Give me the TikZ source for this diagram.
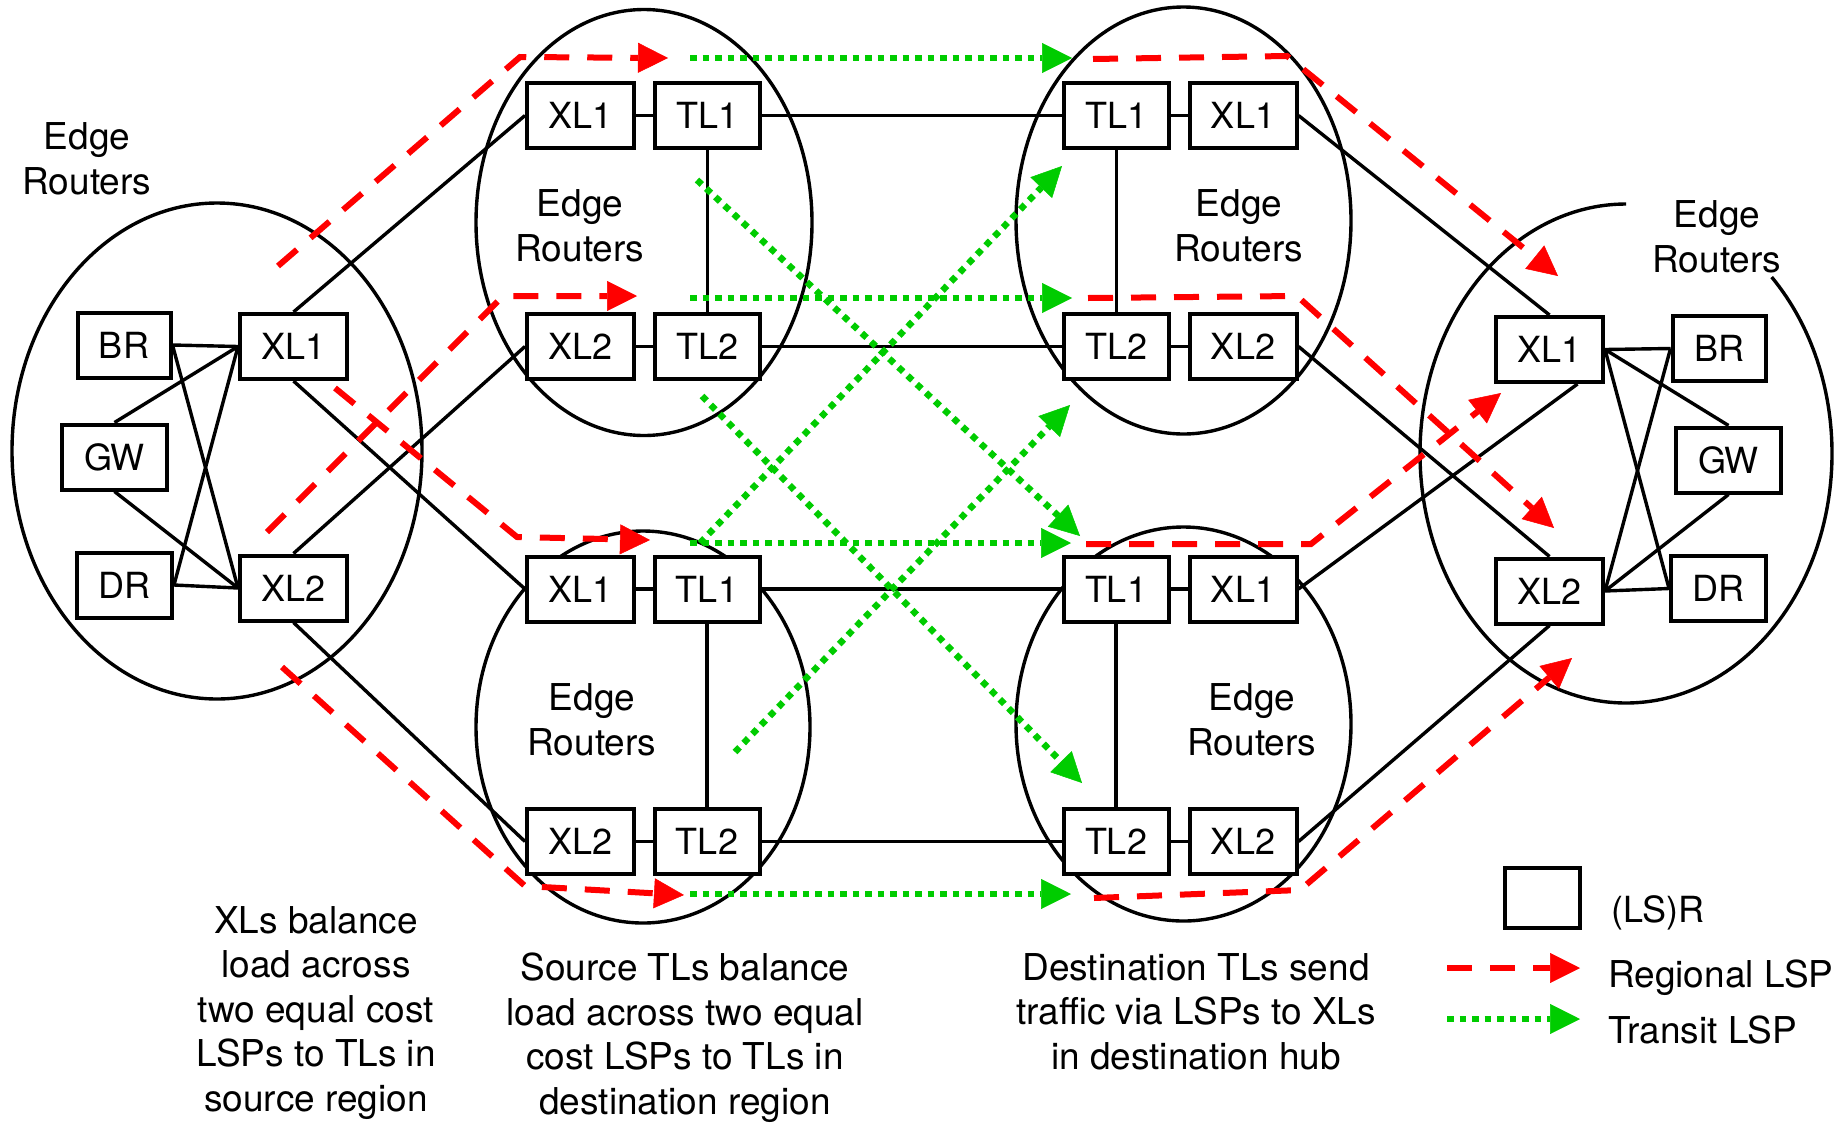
\documentclass[tikz,border=0pt]{standalone}
\usepackage{fontspec}
\setmainfont{TeX Gyre Heros}
\usetikzlibrary{arrows.meta,calc}
\definecolor{lspred}{RGB}{255,0,0}
\definecolor{lspgreen}{RGB}{0,204,0}
\begin{document}
\begin{tikzpicture}[x=1pt,y=-1pt,
  box/.style={draw,line width=4pt,minimum width=107pt,minimum height=65pt,inner sep=0pt,fill=white,font=\fontsize{36}{43}\selectfont},
  sbox/.style={box,minimum width=93pt},
  mbox/.style={box,minimum width=105pt},
  lbl/.style={align=center,inner sep=0pt,font=\fontsize{37}{44.5}\selectfont},
  link/.style={line width=3.4pt},
  reg/.style={draw=lspred,line width=6pt,dash pattern=on 25pt off 18pt,-{Triangle[length=30pt,width=30pt,line width=0.5pt]},lspred},
  tra/.style={draw=lspgreen,line width=6.5pt,dash pattern=on 6.5pt off 6pt,-{Triangle[length=30pt,width=30pt,line width=0.5pt]},lspgreen}]
\useasboundingbox (0,0) rectangle (1843,1122);

% ellipses
\draw[link] (217,451) ellipse [x radius=205, y radius=248];
\draw[link] (644,222.5) ellipse [x radius=168, y radius=213];
\draw[link] (643,727) ellipse [x radius=167, y radius=196];
\draw[link] (1183.5,220.5) ellipse [x radius=167.5, y radius=213.5];
\draw[link] (1183.5,724) ellipse [x radius=167.5, y radius=197];
\draw[link] (1626,453.5) ++(-45:206 and 249.5) arc[start angle=-45, end angle=270, x radius=206, y radius=249.5];

% left region
\node[sbox] (lBR) at (124,345) {BR};
\node[mbox] (lGW) at (114.5,457) {GW};
\node[sbox,minimum width=95pt] (lDR) at (124.5,585) {DR};
\node[box] (lXL1) at (293.5,346.5) {XL1};
\node[box] (lXL2) at (293.5,588) {XL2};
\node[lbl] (lLab) at (87,159) {Edge\\Routers};

% top-left hub
\node[box] (aXL1) at (580.5,115.5) {XL1};
\node[mbox] (aTL1) at (707.5,115.5) {TL1};
\node[box] (aXL2) at (580.5,346.5) {XL2};
\node[mbox] (aTL2) at (707.5,346.5) {TL2};
\node[lbl] (aLab) at (580,226) {Edge\\Routers};

% bottom-left hub
\node[box] (cXL1) at (580.5,589) {XL1};
\node[mbox] (cTL1) at (707,589) {TL1};
\node[box] (cXL2) at (580.5,841.5) {XL2};
\node[mbox] (cTL2) at (707,841.5) {TL2};
\node[lbl] (cLab) at (592,720) {Edge\\Routers};

% top-right hub
\node[mbox] (bTL1) at (1116.5,115.5) {TL1};
\node[box] (bXL1) at (1243,115.5) {XL1};
\node[mbox] (bTL2) at (1116.5,346.5) {TL2};
\node[box] (bXL2) at (1243,346.5) {XL2};
\node[lbl] (bLab) at (1239,226) {Edge\\Routers};

% bottom-right hub
\node[mbox] (dTL1) at (1116,589) {TL1};
\node[box] (dXL1) at (1243,589) {XL1};
\node[mbox] (dTL2) at (1116,841.5) {TL2};
\node[box] (dXL2) at (1243,841.5) {XL2};
\node[lbl] (dLab) at (1252,720) {Edge\\Routers};

% right region
\node[box] (rXL1) at (1549.5,349.5) {XL1};
\node[sbox] (rBR) at (1719,348.5) {BR};
\node[mbox] (rGW) at (1728.5,460) {GW};
\node[sbox,minimum width=95pt] (rDR) at (1718.5,588.5) {DR};
\node[box] (rXL2) at (1549.5,591) {XL2};
\node[lbl] (rLab) at (1717,237) {Edge\\Routers};

% black links
\draw[link] (lBR.east) -- (lXL1.west);
\draw[link] (lBR.east) -- (lXL2.west);
\draw[link] (lGW.north) -- (lXL1.west);
\draw[link] (lGW.south) -- (lXL2.west);
\draw[link] (lDR.east) -- (lXL1.west);
\draw[link] (lDR.east) -- (lXL2.west);
\draw[link] (rXL1.east) -- (rBR.west);
\draw[link] (rXL1.east) -- (rGW.north);
\draw[link] (rXL1.east) -- (rDR.west);
\draw[link] (rXL2.east) -- (rBR.west);
\draw[link] (rXL2.east) -- (rGW.south);
\draw[link] (rXL2.east) -- (rDR.west);
\draw[link] (lXL1.north) -- (aXL1.west);
\draw[link] (lXL1.south) -- (cXL1.west);
\draw[link] (lXL2.north) -- (aXL2.west);
\draw[link] (lXL2.south) -- (cXL2.west);
\draw[link] (aXL1.east) -- (aTL1.west);
\draw[link] (aXL2.east) -- (aTL2.west);
\draw[link] (aTL1.south) -- (aTL2.north);
\draw[link] (cXL1.east) -- (cTL1.west);
\draw[link] (cXL2.east) -- (cTL2.west);
\draw[link] (cTL1.south) -- (cTL2.north);
\draw[link] (aTL1.east) -- (bTL1.west);
\draw[link] (aTL2.east) -- (bTL2.west);
\draw[link] (cTL1.east) -- (dTL1.west);
\draw[link] (cTL2.east) -- (dTL2.west);
\draw[link] (bTL1.east) -- (bXL1.west);
\draw[link] (bTL2.east) -- (bXL2.west);
\draw[link] (bTL1.south) -- (bTL2.north);
\draw[link] (dTL1.east) -- (dXL1.west);
\draw[link] (dTL2.east) -- (dXL2.west);
\draw[link] (dTL1.south) -- (dTL2.north);
\draw[link] (bXL1.east) -- (rXL1.north);
\draw[link] (bXL2.east) -- (rXL2.north);
\draw[link] (dXL1.east) -- ([xshift=28pt]rXL1.south);
\draw[link] (dXL2.east) -- (rXL2.south);

% LSP coordinates
\coordinate (r1a) at (278,266); \coordinate (r1b) at (520,57);  \coordinate (r1c) at (668,58);
\coordinate (r2a) at (335,388); \coordinate (r2b) at (517,537); \coordinate (r2c) at (650,540);
\coordinate (r3a) at (267,532); \coordinate (r3b) at (503,296); \coordinate (r3c) at (637,296);
\coordinate (r4a) at (282,667); \coordinate (r4b) at (525,886); \coordinate (r4c) at (684,895);
\coordinate (r5a) at (1093,59); \coordinate (r5b) at (1287,56); \coordinate (r5c) at (1558,276);
\coordinate (r6a) at (1088,298); \coordinate (r6b) at (1297,296); \coordinate (r6c) at (1554,528);
\coordinate (r7a) at (1086,544); \coordinate (r7b) at (1311,544); \coordinate (r7c) at (1501,393);
\coordinate (r8a) at (1094,898); \coordinate (r8b) at (1300,890); \coordinate (r8c) at (1572,658);
\coordinate (g1a) at (690,58);  \coordinate (g1b) at (1072,58);
\coordinate (g2a) at (690,298); \coordinate (g2b) at (1072,298);
\coordinate (g3a) at (690,543); \coordinate (g3b) at (1071,543);
\coordinate (g4a) at (690,894); \coordinate (g4b) at (1071,894);
\coordinate (g5a) at (697,180); \coordinate (g5b) at (1080,536);
\coordinate (g6a) at (702,396); \coordinate (g6b) at (1082,783);
\coordinate (g7a) at (700,543); \coordinate (g7b) at (1062,166);
\coordinate (g8a) at (735,752); \coordinate (g8b) at (1070,405);

\draw[reg] (r1a) -- (r1b) -- (r1c);
\draw[reg] (r2a) -- (r2b) -- (r2c);
\draw[reg] (r3a) -- (r3b) -- (r3c);
\draw[reg] (r4a) -- (r4b) -- (r4c);
\draw[reg] (r5a) -- (r5b) -- (r5c);
\draw[reg] (r6a) -- (r6b) -- (r6c);
\draw[reg] (r7a) -- (r7b) -- (r7c);
\draw[reg] (r8a) -- (r8b) -- (r8c);
\draw[tra] (g1a) -- (g1b);
\draw[tra] (g2a) -- (g2b);
\draw[tra] (g3a) -- (g3b);
\draw[tra] (g4a) -- (g4b);
\draw[tra] (g5a) -- (g5b);
\draw[tra] (g6a) -- (g6b);
\draw[tra] (g7a) -- (g7b);
\draw[tra] (g8a) -- (g8b);

% captions
\node[lbl,anchor=north] (t1) at (316,906) {XLs balance\\load across\\two equal cost\\LSPs to TLs in\\source region};
\node[lbl,anchor=north] (t2) at (685,953) {Source TLs balance\\load across two equal\\cost LSPs to TLs in\\destination region};
\node[lbl,anchor=north] (t3) at (1196,953) {Destination TLs send\\traffic via LSPs to XLs\\in destination hub};

% legend
\node[box,minimum width=75pt,minimum height=60pt] (legbox) at (1542.5,898) {};
\node[anchor=base west,inner sep=0pt,font=\fontsize{36}{43}\selectfont] (legR) at (1611,922) {(LS)R};
\coordinate (lra) at (1447,968); \coordinate (lrb) at (1580,968);
\coordinate (lga) at (1447,1019); \coordinate (lgb) at (1580,1019);
\draw[reg] (lra) -- (lrb);
\draw[tra] (lga) -- (lgb);
\node[anchor=base west,inner sep=0pt,font=\fontsize{37}{44}\selectfont] (legReg) at (1608,987) {Regional LSP};
\node[anchor=base west,inner sep=0pt,font=\fontsize{37}{44}\selectfont] (legTra) at (1608,1043) {Transit LSP};
\end{tikzpicture}
\end{document}
